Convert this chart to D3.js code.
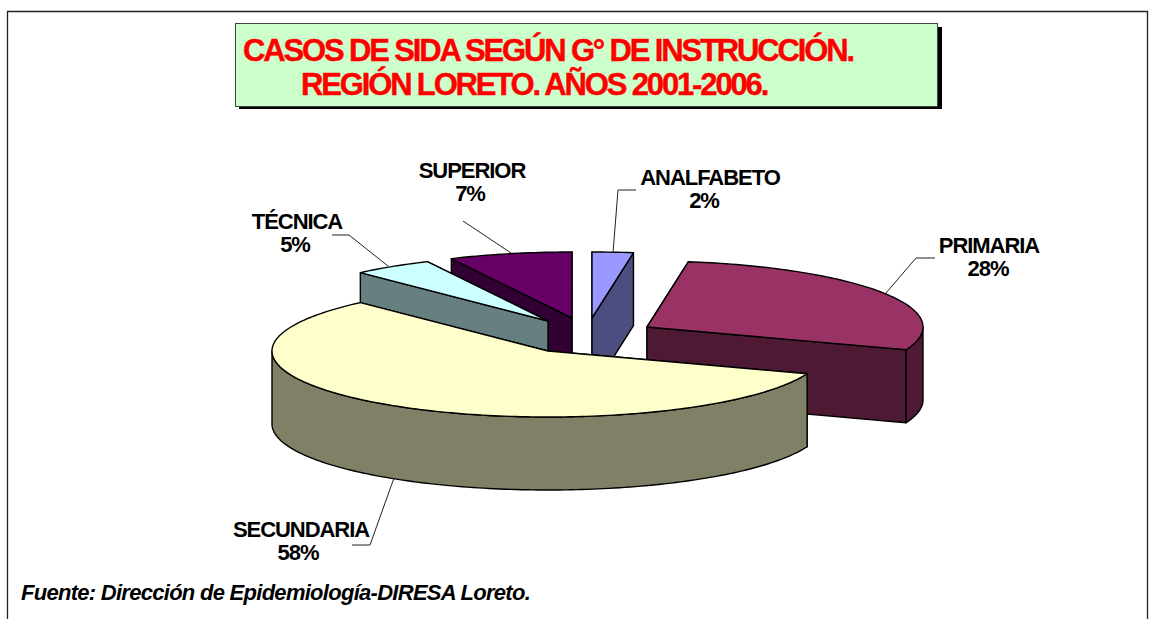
<!DOCTYPE html>
<html><head><meta charset="utf-8">
<script src="https://cdn.jsdelivr.net/npm/d3@7/dist/d3.min.js"></script>
<style>html,body{margin:0;padding:0;background:#fff;overflow:hidden}svg{display:block}
text{font-family:"Liberation Sans",Arial,sans-serif;font-weight:bold}</style>
</head><body><svg id="c" width="1156" height="619"></svg>
<script>
// Data
const categories = ["ANALFABETO","PRIMARIA","SECUNDARIA","TÉCNICA","SUPERIOR"];
const shares = [2.4,28.2,57.5,4.7,7.2];
const percentLabels = ["2%","28%","58%","5%","7%"];
const titleLines = ["CASOS DE SIDA SEGÚN G° DE INSTRUCCIÓN.","REGIÓN LORETO. AÑOS 2001-2006."];
const sourceNote = "Fuente: Dirección de Epidemiología-DIRESA Loreto.";

// Layout and style (not data)
const topColors = ["#9999FF","#993366","#FFFFCC","#CCFFFF","#660066"];
const sideColors = ["#4D4D80","#4D1933","#808066","#668080","#330033"];
const apex = [[592,318],[647,327],[548,351],[548,321],[572,318]];
const paintOrder = [0,4,3,1,2];
const depth = 73;
const leaders = [
  [[613,253],[618,190],[636,190]],
  [[886,293],[916,258],[935,258]],
  [[394,478],[370,545],[352,545]],
  [[388,266],[349,235],[332,235]],
  [[511,253],[463,221],[463,221]]
];
const labelPos = [[710,185],[989,253],[301,537],[297,229],[472,178]];
const pctShift = [-6,-1,-3,-2,-2];

const svg = d3.select("#c");
const x = d3.scaleLinear().domain([-1,1]).range([-276,276]);
const y = d3.scaleLinear().domain([-1,1]).range([66,-66]);
const arcs = d3.pie().sort(null).value(d=>d)(shares);
const pt = (i,t,dz=0)=>[apex[i][0]+x(Math.sin(t)), apex[i][1]+y(Math.cos(t))+dz];
const line = d3.line();
const arcPts = (i,a,b,dz=0)=>{
  const n = Math.max(2,Math.ceil((b-a)/0.02));
  return d3.range(n+1).map(k=>pt(i,a+(b-a)*k/n,dz));
};

// frame
svg.append("path").attr("d","M7.5,619V11.5H1147.5V619").attr("fill","none").attr("stroke","#222").attr("stroke-width",1.3);

// title
svg.append("rect").attr("x",239).attr("y",27).attr("width",703).attr("height",82).attr("fill","#000");
svg.append("rect").attr("x",235.5).attr("y",23.5).attr("width",702).attr("height",83).attr("fill","#CCFFCC").attr("stroke","#444").attr("stroke-width",1);
const titleX=[243,301], titleY=[61,95];
titleLines.forEach((t,i)=>svg.append("text").text(t).attr("x",titleX[i]).attr("y",titleY[i])
  .attr("fill","#FF0000").attr("stroke","#FF0000").attr("stroke-width",0.4).attr("font-size",31).style("letter-spacing","-2.15px"));

// slices
const g = svg.append("g").attr("stroke","#000").attr("stroke-width",1.4).attr("stroke-linejoin","round");
paintOrder.forEach(i=>{
  const a=arcs[i].startAngle,b=arcs[i].endAngle,c=apex[i];
  const side=sideColors[i];
  // farther radial wall first
  [a,b].sort((p,q)=>pt(i,p)[1]-pt(i,q)[1]).forEach(t=>{
    g.append("path").attr("fill",side).attr("d",line([c,pt(i,t),pt(i,t,depth),[c[0],c[1]+depth]])+"Z");
  });
  const r0=Math.max(a,Math.PI/2), r1=Math.min(b,Math.PI*1.5);
  if(r1>r0){
    g.append("path").attr("fill",side).attr("d",line(arcPts(i,r0,r1).concat(arcPts(i,r0,r1,depth).reverse()))+"Z");
  }
  g.append("path").attr("fill",topColors[i]).attr("d",line([c].concat(arcPts(i,a,b)))+"Z");
});

// leader lines
leaders.forEach(l=>svg.append("path").attr("d",line(l)).attr("fill","none").attr("stroke","#222").attr("stroke-width",1));

// labels
categories.forEach((n,i)=>{
  const t=svg.append("text").attr("text-anchor","middle").attr("font-size",22).attr("fill","#000").style("letter-spacing","-1.05px");
  t.append("tspan").attr("x",labelPos[i][0]).attr("y",labelPos[i][1]).text(n);
  t.append("tspan").attr("x",labelPos[i][0]+pctShift[i]).attr("y",labelPos[i][1]+23).text(percentLabels[i]);
});

svg.append("text").text(sourceNote).attr("x",21).attr("y",600).attr("font-size",22).attr("font-style","italic").attr("fill","#000").style("letter-spacing","-0.72px");
</script></body></html>
